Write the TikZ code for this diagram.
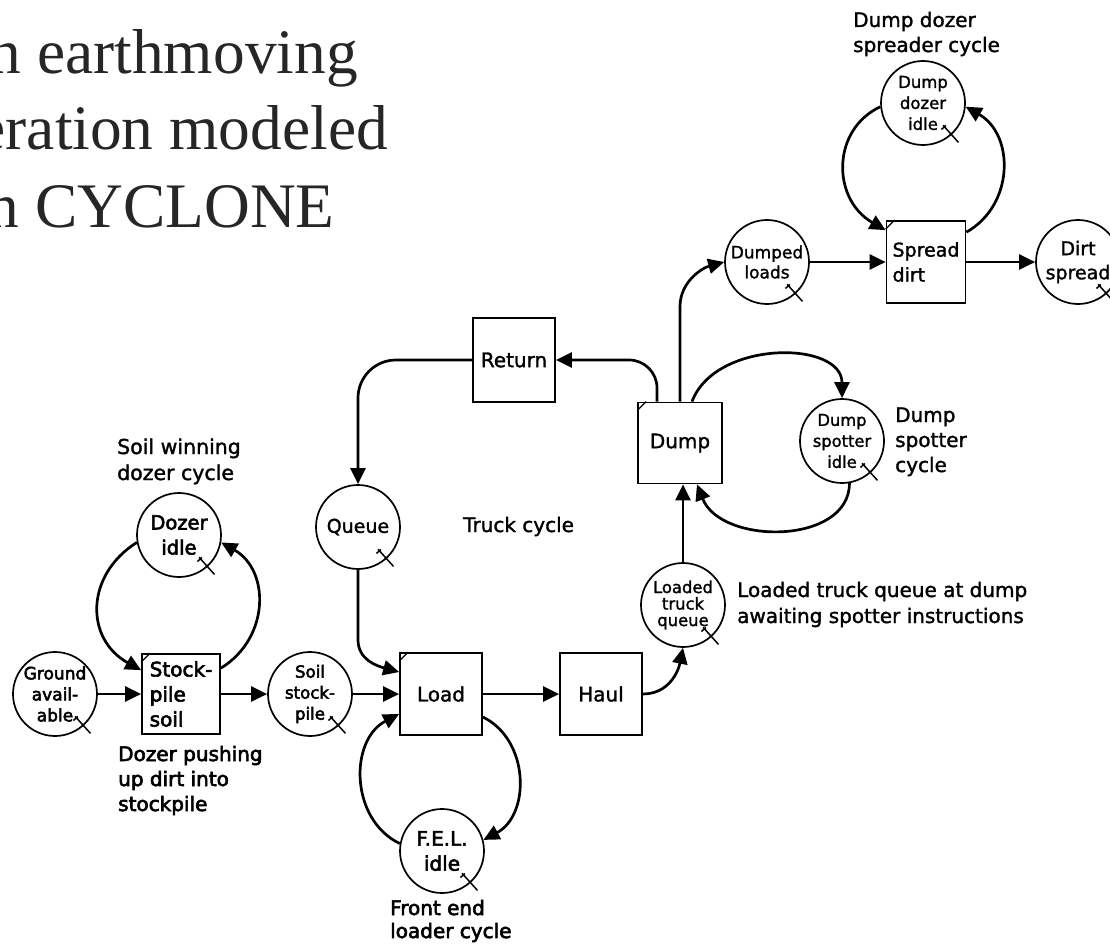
\documentclass[tikz,border=0pt]{standalone}
\usepackage{fontspec}
\usetikzlibrary{arrows.meta,calc}
\newfontfamily\titlefont{Liberation Serif}
\newfontfamily\diafont[FakeBold=1.5]{DejaVu Sans}
\newfontfamily\diafontb[FakeBold=3]{DejaVu Sans}

\begin{document}
\begin{tikzpicture}[x=1pt,y=-1pt,
  every node/.style={inner sep=0pt},
  queue/.style={circle, draw, line width=1.7pt, minimum size=84pt, inner sep=-4pt, align=center},
  act/.style={rectangle, draw, line width=1.7pt, minimum width=82pt, minimum height=82pt,
    align=center, font=\diafont\fontsize{20}{25}\selectfont},
  flow/.style={line width=2.7pt, -{Triangle[length=16pt,width=15pt]}},
  qtick/.style={line width=1.5pt},
  combi/.style={line width=1.2pt},
  note/.style={anchor=base west, align=left, font=\diafont\fontsize{20}{25}\selectfont},
  headline/.style={font=\titlefont\fontsize{63.4}{76}\selectfont, text=black!85},
]
\useasboundingbox (0,0) rectangle (1110,944);

% heading, running off the left edge
\node[headline, anchor=base west] (t1) at (-10.5,74) {n earthmoving};
\node[headline, anchor=base east] (t2) at (388,150) {eration modeled};
\node[headline, anchor=base west] (t3) at (-12.5,227) {n CYCLONE};

% queue nodes (circles)
\node[queue, font=\diafontb\fontsize{17}{21}\selectfont] (gnd) at (55,694) {Ground\\avail-\\able};
\node[queue, font=\diafontb\fontsize{19.5}{25}\selectfont] (dzi) at (179,535) {Dozer\\idle};
\node[queue, font=\diafontb\fontsize{16.6}{21}\selectfont] (ssp) at (310,694) {Soil\\stock-\\pile};
\node[queue, font=\diafont\fontsize{19}{23}\selectfont] (que) at (358,527) {Queue};
\node[queue, font=\diafontb\fontsize{20}{25}\selectfont] (fel) at (442,851) {F.E.L.\\idle};
\node[queue, font=\diafont\fontsize{16.4}{16.5}\selectfont] (ltq) at (683,605) {Loaded\\truck\\queue};
\node[queue, font=\diafont\fontsize{16.3}{21}\selectfont] (dsi) at (842,441) {Dump\\spotter\\idle};
\node[queue, font=\diafont\fontsize{17}{20}\selectfont] (dld) at (767,262) {Dumped\\loads};
\node[queue, font=\diafont\fontsize{16.5}{21}\selectfont] (ddi) at (923,103) {Dump\\dozer\\idle};
\node[queue, font=\diafont\fontsize{19}{24}\selectfont] (dsp) at (1078,262) {Dirt\\spread};

% activities (boxes)
\node[act, minimum width=78pt, minimum height=80pt, align=left,
  font=\diafontb\fontsize{20}{25}\selectfont] (stk) at (181,694) {Stock-\\pile\\soil};
\node[act] (load) at (441,694) {Load};
\node[act] (haul) at (601,694) {Haul};
\node[act, minimum height=84pt] (ret) at (514,360) {Return};
\node[act, minimum width=84pt, minimum height=81pt] (dump) at (680,443) {Dump};
\node[act, minimum width=79pt, align=left, font=\diafont\fontsize{19}{25}\selectfont] (spr) at (926,262) {Spread\\dirt};

% combination marks in the upper left corners
\foreach \b in {stk,load,dump,spr}
  \draw[combi] ([yshift=-9pt]\b.north west) -- ([xshift=9pt]\b.north west);

% queue marks
\foreach \q in {gnd,dzi,ssp,que,fel,ltq,dsi,dld,ddi,dsp} {
  \draw[qtick] ($(\q.center)+(-48:30pt)$) -- ($(\q.center)+(-48:53pt)$);
  \draw[qtick] ($(\q.center)+(-48:32pt)+(42:2pt)$) -- ++(222:6pt);
}

% main flow
\draw[flow] (gnd) -- (stk);
\draw[flow] (stk) -- (ssp);
\draw[flow] (ssp) -- (load);
\draw[flow] (load) -- (haul);
\draw[flow] (haul.east) .. controls +(25,0) and +(-5,25) .. (ltq.south);
\draw[flow] (ltq.north) -- (ltq.north |- dump.south);
\draw[flow, rounded corners=28pt] ([xshift=-23pt]dump.north) |- (ret.east);
\draw[flow, rounded corners=38pt] (ret.west) -| (que.north);
\draw[flow] (que.south) -- ++(0,70) .. controls +(0,20) and +(-22,-6) .. ([yshift=22pt]load.west);
\draw[flow] (dump.north) -- ++(0,-95) .. controls +(0,-25) and +(-22,6) .. (dld.west);
\draw[flow] (dld) -- (spr);
\draw[flow] (spr) -- (dsp);

% soil winning dozer cycle
\draw[flow] (dzi.190) .. controls +(-52,33) and +(-56,-31) .. ([yshift=-17pt]stk.north west);
\draw[flow] ([yshift=-15pt]stk.north east) .. controls +(49,-30) and +(49,28) .. (dzi.-10);

% front end loader cycle
\draw[flow] ([yshift=-23pt]load.east) .. controls +(47,23) and +(47,-25) .. (fel.15);
\draw[flow] (fel.170) .. controls +(-50,-24) and +(-50,26) .. ([yshift=-20pt]load.west);

% dump spotter cycle
\draw[flow] ([xshift=12pt]dump.north) .. controls +(23,-62) and +(0,-58) .. (dsi.north);
\draw[flow] (dsi.-80) .. controls +(0,62) and +(24,61) .. ([xshift=17pt]dump.south);

% dump dozer spreader cycle
\draw[flow] (ddi.185) .. controls +(-49,23) and +(-54,-31) .. ([yshift=-10pt]spr.north west);
\draw[flow] ([yshift=-12pt]spr.north east) .. controls +(48,-27) and +(49,28) .. (ddi.-5);

% annotations (anchored on the baseline of their last line)
\node[note] (n1) at (853,52) {Dump dozer\\spreader cycle};
\node[note, font=\diafont\fontsize{20.5}{26}\selectfont] (n2) at (117,480) {Soil winning\\dozer cycle};
\node[note, font=\diafontb\fontsize{20}{25}\selectfont] (n3) at (118,811) {Dozer pushing\\up dirt into\\stockpile};
\node[note] (n4) at (463,532) {Truck cycle};
\node[note, font=\diafont\fontsize{20}{26}\selectfont] (n5) at (737,623) {Loaded truck queue at dump\\awaiting spotter instructions};
\node[note] (n6) at (895,472) {Dump\\spotter\\cycle};
\node[note, font=\diafontb\fontsize{20}{23}\selectfont] (n7) at (390,938) {Front end\\loader cycle};
\end{tikzpicture}
\end{document}
